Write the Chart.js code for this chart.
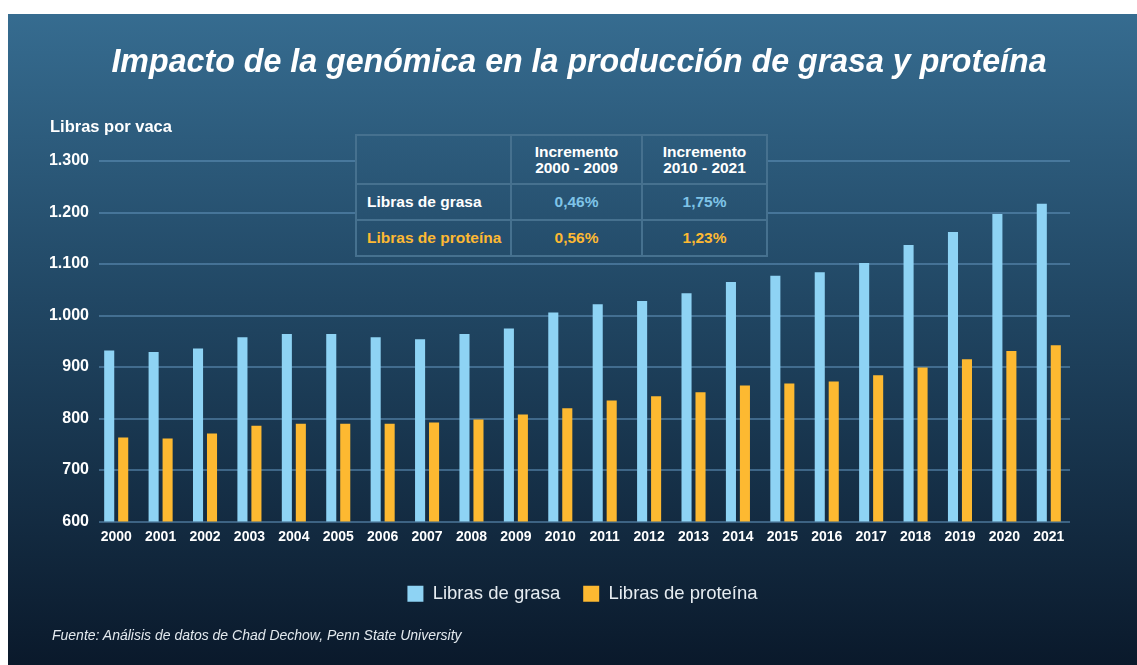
<!DOCTYPE html>
<html lang="es">
<head>
<meta charset="utf-8">
<title>Impacto de la genómica en la producción de grasa y proteína</title>
<script src="https://cdn.jsdelivr.net/npm/chart.js@4.4.1/dist/chart.umd.min.js"></script>
<style>
  html, body { margin: 0; padding: 0; background: #fff; width: 1137px; height: 665px; overflow: hidden;
    font-family: "Liberation Sans", Arial, sans-serif; }
  .bg { background: linear-gradient(to bottom, #366c90 2.1%, #214764 45%, #0a192b 100%) fixed; }
  #panel { position: absolute; left: 8px; top: 14px; right: 0; bottom: 0; }
  #chart { position: absolute; left: 0; top: 0; }
  #title { position: absolute; left: 579px; top: 40px; white-space: nowrap; }
  #title span { display: inline-block; color: #fff; font-weight: bold; font-style: italic; font-size: 34px;
    line-height: 40px; transform-origin: center; }
  #ylabel { position: absolute; left: 50px; top: 117px; color: #fff; font-weight: bold; font-size: 16.5px; }
  #source { position: absolute; left: 52px; top: 627px; color: #e3e9ee; font-style: italic; font-size: 14px; }
  #tbl { position: absolute; left: 355px; top: 134px; border-collapse: collapse; font-weight: bold; }
  #tbl td { border: 2px solid #46718f; padding: 0; font-size: 15.5px; }
  #tbl tr.head td { height: 47px; text-align: center; color: #fff; font-size: 15.5px; line-height: 16px; }
  #tbl tr.row td { height: 34px; text-align: center; }
  #tbl tr.row td.lab { text-align: left; padding-left: 10px; }
  .c-grasa { color: #7fc4e8; }
  .c-prot { color: #fdb933; }
  .c-white { color: #fff; }
</style>
</head>
<body>
<div id="panel" class="bg"></div>
<canvas id="chart" width="1137" height="665"></canvas>
<div id="title"><span id="titleText">Impacto de la genómica en la producción de grasa y proteína</span></div>
<div id="ylabel">Libras por vaca</div>
<table id="tbl" class="bg">
  <tr class="head">
    <td style="width:153px"></td>
    <td style="width:129px">Incremento<br>2000 - 2009</td>
    <td style="width:123px">Incremento<br>2010 - 2021</td>
  </tr>
  <tr class="row">
    <td class="lab c-white">Libras de grasa</td>
    <td class="c-grasa">0,46%</td>
    <td class="c-grasa">1,75%</td>
  </tr>
  <tr class="row">
    <td class="lab c-prot">Libras de proteína</td>
    <td class="c-prot">0,56%</td>
    <td class="c-prot">1,23%</td>
  </tr>
</table>
<div id="source">Fuente: Análisis de datos de Chad Dechow, Penn State University</div>

<script>
// Data (pounds per cow)
const years = ['2000', '2001', '2002', '2003', '2004', '2005', '2006', '2007', '2008', '2009', '2010',
  '2011', '2012', '2013', '2014', '2015', '2016', '2017', '2018', '2019', '2020', '2021'];
const grasa = [932, 929, 936, 958, 964, 964, 958, 954, 964, 975, 1006,
  1022, 1028, 1043, 1065, 1077, 1084, 1102, 1137, 1162, 1197, 1217];
const proteina = [763, 761, 771, 786, 790, 790, 790, 792, 798, 808, 820,
  835, 843, 851, 864, 868, 872, 884, 899, 915, 931, 942];
const seriesNames = ['Libras de grasa', 'Libras de proteína'];
const seriesColors = ['#8ed3f4', '#fdb931'];

// title is a little condensed in the original, squeeze it to the same width
const titleSpan = document.getElementById('titleText');
const k = 935 / titleSpan.offsetWidth;
titleSpan.style.transform = `translateX(-50%) scaleX(${k})`;

// spanish thousands separator: 1.300
function fmt(v) {
  if (v < 1000) return String(v);
  return Math.floor(v / 1000) + '.' + String(v % 1000).padStart(3, '0');
}

// horizontal grid lines, starting a few px right of the axis edge
const gridLines = {
  id: 'gridLines',
  beforeDatasetsDraw(chart) {
    const { ctx, chartArea, scales: { y } } = chart;
    ctx.save();
    ctx.strokeStyle = 'rgba(96, 146, 186, 0.55)';
    ctx.lineWidth = 2;
    y.ticks.forEach(t => {
      const py = Math.round(y.getPixelForValue(t.value));
      ctx.beginPath();
      ctx.moveTo(chartArea.left + 5, py);
      ctx.lineTo(chartArea.right - 1, py);
      ctx.stroke();
    });
    ctx.restore();
  }
};

new Chart(document.getElementById('chart'), {
  type: 'bar',
  data: {
    labels: years,
    datasets: [
      { label: seriesNames[0], data: grasa, backgroundColor: seriesColors[0] },
      { label: seriesNames[1], data: proteina, backgroundColor: seriesColors[1] }
    ]
  },
  options: {
    responsive: false,
    animation: false,
    datasets: { bar: { categoryPercentage: 0.63, barPercentage: 0.72 } },
    layout: { padding: { left: 0, right: 66, top: 161, bottom: 52 } },
    plugins: {
      title: { display: false },
      tooltip: { enabled: false },
      legend: {
        position: 'bottom',
        fullSize: false,
        labels: {
          boxWidth: 16,
          boxHeight: 16,
          padding: 23,
          color: '#e6ecf1',
          font: { family: '"Liberation Sans", Arial, sans-serif', size: 18.5 }
        }
      }
    },
    scales: {
      x: {
        grid: { display: false, drawTicks: false },
        border: { display: false },
        ticks: {
          color: '#fff',
          padding: 7,
          maxRotation: 0,
          autoSkip: false,
          font: { family: '"Liberation Sans", Arial, sans-serif', size: 14, weight: 'bold' }
        },
        afterFit: s => { s.height = 40; }
      },
      y: {
        min: 600,
        max: 1300,
        grid: { display: false, drawTicks: false },
        border: { display: false },
        ticks: {
          stepSize: 100,
          color: '#fff',
          padding: 5,
          callback: v => fmt(v),
          font: { family: '"Liberation Sans", Arial, sans-serif', size: 16, weight: 'bold' }
        },
        afterFit: s => { s.width = 94; }
      }
    }
  },
  plugins: [gridLines]
});
</script>
</body>
</html>
